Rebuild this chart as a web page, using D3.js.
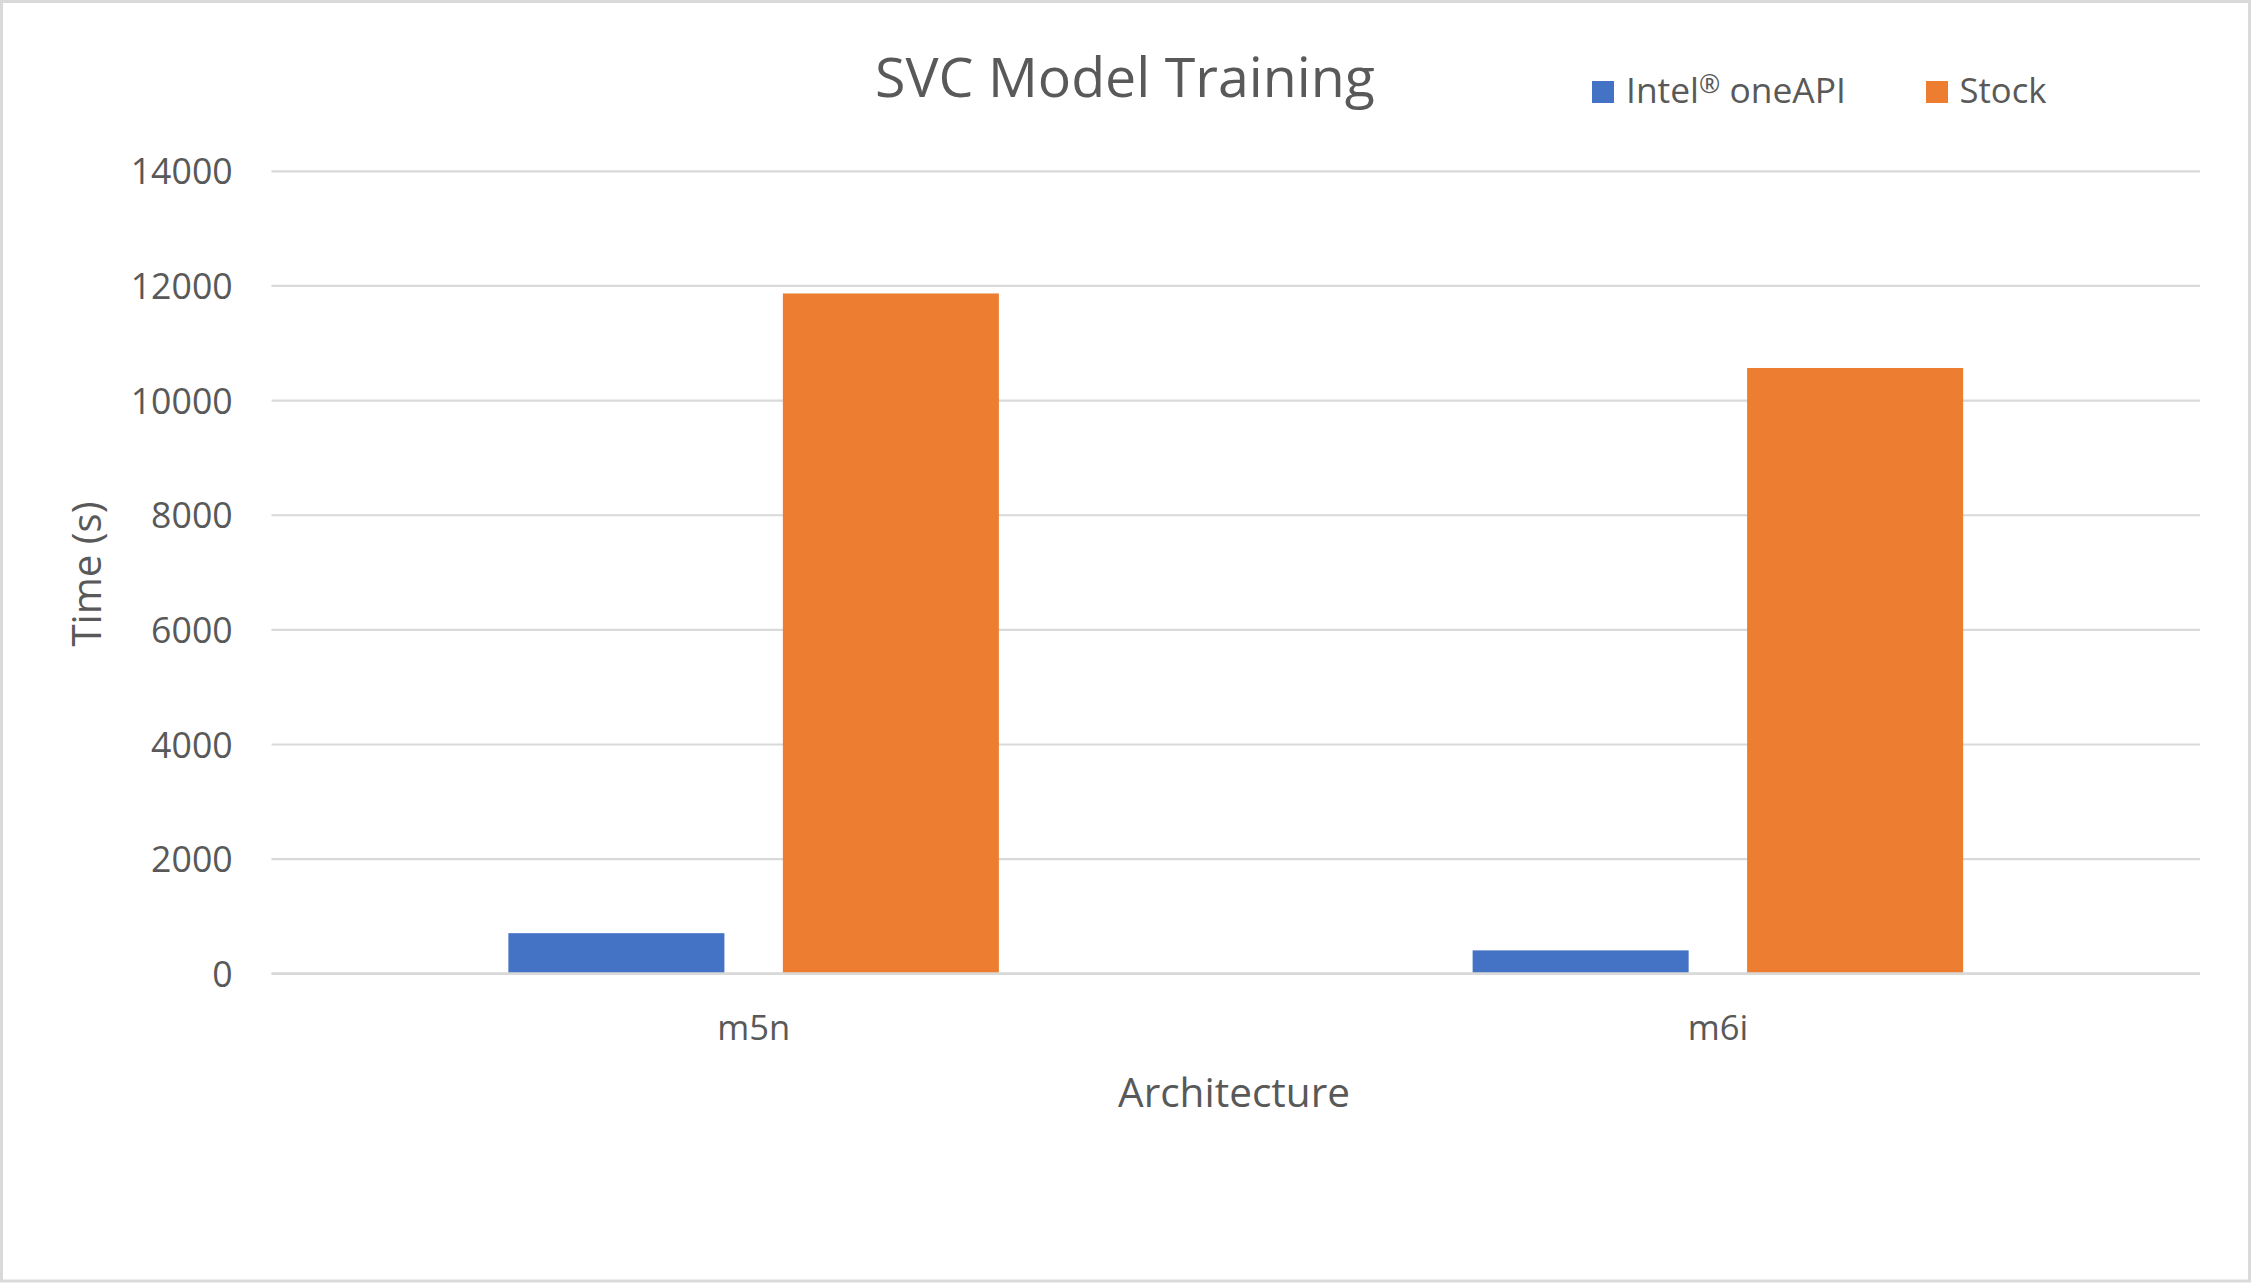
<!DOCTYPE html>
<html>
<head>
<meta charset="utf-8">
<script src="https://cdn.jsdelivr.net/npm/d3@7"></script>
<style>
  html, body { margin: 0; padding: 0; background: #fff; }
  svg { display: block; }
  text { font-family: "Open Sans", "Noto Sans", sans-serif; fill: #595959; }
</style>
</head>
<body>
<script>
// ---- data ----
const categories = ["m5n", "m6i"];
const seriesNames = ["Intel® oneAPI", "Stock"];
const oneAPIValues = [700, 400];
const stockValues = [11860, 10560];
const yTicks = [0, 2000, 4000, 6000, 8000, 10000, 12000, 14000];
const chartTitle = "SVC Model Training";
const xTitle = "Architecture";
const yTitle = "Time (s)";

const colors = ["#4472C4", "#ED7D31"];
const W = 2251, H = 1283;

const svg = d3.select("body").append("svg").attr("width", W).attr("height", H);

// background and border
svg.append("rect").attr("x", 1.5).attr("y", 1.5).attr("width", W - 3).attr("height", H - 3.5)
  .attr("fill", "#fff").attr("stroke", "#d9d9d9").attr("stroke-width", 3);

// fit text to a target width
function fit(sel, targetWidth) {
  const node = sel.node();
  const size = parseFloat(sel.attr("font-size"));
  const w = node.getComputedTextLength();
  sel.attr("font-size", (size * targetWidth / w).toFixed(2));
  return sel;
}

const plotLeft = 271.5, plotRight = 2200, plotTop = 170.8, plotBottom = 973.3;

const x0 = d3.scaleBand().domain(categories).range([plotLeft, plotRight]).paddingInner(0).paddingOuter(0);
const x1 = d3.scaleBand().domain(seriesNames).range([0, x0.bandwidth()]).paddingInner(0.213).paddingOuter(0.863);
const y = d3.scaleLinear().domain([0, 14000]).range([plotBottom, plotTop]);

// gridlines via axis
const grid = svg.append("g").attr("transform", `translate(${plotLeft},0)`)
  .call(d3.axisLeft(y).tickValues(yTicks).tickSize(-(plotRight - plotLeft)).tickFormat(""));
grid.select(".domain").remove();
grid.selectAll(".tick line").attr("stroke", "#d9d9d9").attr("stroke-width", 2.2);

// y tick labels
const yAxisG = svg.append("g").attr("transform", `translate(232.7,0)`)
  .call(d3.axisLeft(y).tickValues(yTicks).tickSize(0).tickPadding(0).tickFormat(d3.format("d")));
yAxisG.select(".domain").remove();
yAxisG.selectAll(".tick text").attr("font-size", 36).attr("fill", "#595959")
  .attr("dy", null).attr("dominant-baseline", "central").attr("y", -1);
{
  const t = yAxisG.selectAll(".tick text").filter(d => d === 14000);
  const w = t.node().getComputedTextLength();
  const fs = 36 * 102 / w;
  yAxisG.selectAll(".tick text").attr("font-size", fs.toFixed(2));
}

// bars
const data = categories.map((c, i) => ({ cat: c, vals: [oneAPIValues[i], stockValues[i]] }));
const groups = svg.append("g").selectAll("g").data(data).join("g")
  .attr("transform", d => `translate(${x0(d.cat)},0)`);
groups.selectAll("rect").data(d => d.vals.map((v, j) => ({ s: seriesNames[j], v, j })))
  .join("rect")
  .attr("x", d => x1(d.s))
  .attr("width", x1.bandwidth())
  .attr("y", d => y(d.v))
  .attr("height", d => y(0) - y(d.v))
  .attr("fill", d => colors[d.j]);

// x axis line (zero line drawn above bars)
svg.append("line").attr("x1", plotLeft).attr("x2", plotRight).attr("y1", y(0)).attr("y2", y(0))
  .attr("stroke", "#d9d9d9").attr("stroke-width", 2.2);

// x tick labels
const xAxisG = svg.append("g").attr("transform", `translate(0,${plotBottom})`)
  .call(d3.axisBottom(x0).tickSize(0).tickPadding(0));
xAxisG.select(".domain").remove();
xAxisG.selectAll(".tick text").attr("font-size", 36).attr("dy", null).attr("y", 1040 - plotBottom)
  .attr("fill", "#595959");
{
  const t = xAxisG.selectAll(".tick text").filter(d => d === "m5n");
  const w = t.node().getComputedTextLength();
  const fs = 36 * 73 / w;
  xAxisG.selectAll(".tick text").attr("font-size", fs.toFixed(2));
}

// title
fit(svg.append("text").attr("x", 1125).attr("y", 97).attr("text-anchor", "middle")
  .attr("font-size", 52).text(chartTitle), 500);

// axis titles
fit(svg.append("text").attr("x", 1234).attr("y", 1107).attr("text-anchor", "middle")
  .attr("font-size", 40).text(xTitle), 232);
fit(svg.append("text").attr("transform", "translate(101,574) rotate(-90)").attr("text-anchor", "middle")
  .attr("font-size", 40).text(yTitle), 145);

// legend
const legendItems = [
  { name: seriesNames[0], sx: 1592, tx: 1626, tw: 220, c: colors[0] },
  { name: seriesNames[1], sx: 1926, tx: 1959.5, tw: 87, c: colors[1] }
];
const lg = svg.append("g");
legendItems.forEach(it => {
  lg.append("rect").attr("x", it.sx).attr("y", 81).attr("width", 22).attr("height", 22).attr("fill", it.c);
  const t = lg.append("text").attr("x", it.tx).attr("y", 103).attr("font-size", 36);
  const parts = it.name.split("®");
  if (parts.length > 1) {
    t.append("tspan").text(parts[0]);
    t.append("tspan").text("®").attr("font-size", "0.72em").attr("baseline-shift", "38%");
    t.append("tspan").text(parts[1]);
  } else {
    t.text(it.name);
  }
  fit(t, it.tw);
});
</script>
</body>
</html>
